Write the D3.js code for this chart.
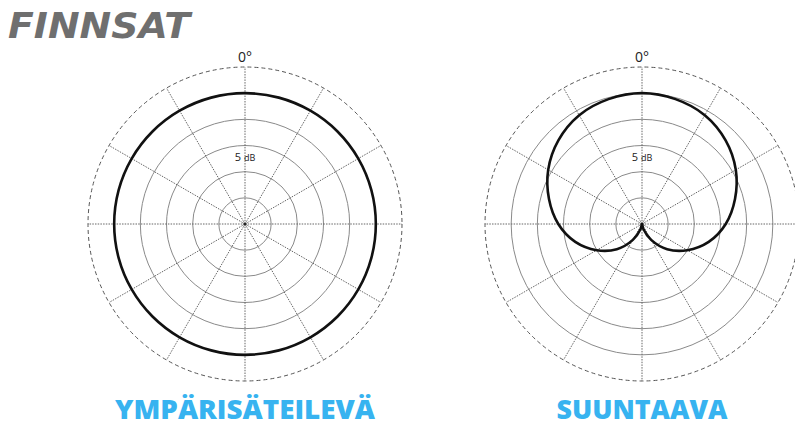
<!DOCTYPE html>
<html>
<head>
<meta charset="utf-8">
<script src="https://cdn.jsdelivr.net/npm/d3@7"></script>
<style>
  body { margin: 0; background: #fff; }
  svg { display: block; }
</style>
</head>
<body>
<div id="chart"></div>
<script>
// polar pickup patterns (dB), one value per 15 degrees
const angles = [0, 15, 30, 45, 60, 75, 90, 105, 120, 135, 150, 165, 180,
                195, 210, 225, 240, 255, 270, 285, 300, 315, 330, 345];
const omniDb = [0, 0, 0, 0, 0, 0, 0, 0, 0, 0, 0, 0, 0,
                0, 0, 0, 0, 0, 0, 0, 0, 0, 0, 0];
const cardioidDb = [0, -0.3, -1.0, -2.4, -4.3, -6.6, -9.0, -11.8, -15.0, -18.2, -21.5, -24.0, -25,
                    -24.0, -21.5, -18.2, -15.0, -11.8, -9.0, -6.6, -4.3, -2.4, -1.0, -0.3];
const ringDb = [-20, -15, -10, -5, 0];
const outerDb = 5;
const spokeAngles = [0, 30, 60, 90, 120, 150, 180, 210, 240, 270, 300, 330];
const titles = ["YMPÄRISÄTEILEVÄ", "SUUNTAAVA"];
const patterns = [omniDb, cardioidDb];

const width = 795, height = 427;
const centers = [{x: 245, y: 224}, {x: 642, y: 224}];
const titleWidths = [260, 171];

const svg = d3.select("#chart").append("svg")
    .attr("width", width)
    .attr("height", height);

// logo
svg.append("text")
    .attr("x", 8)
    .attr("y", 38)
    .attr("textLength", 182)
    .attr("lengthAdjust", "spacingAndGlyphs")
    .style("font-family", "'DejaVu Sans', sans-serif")
    .style("font-weight", "bold")
    .style("font-style", "italic")
    .style("font-size", "36px")
    .style("fill", "#6f6f6f")
    .text("FINNSAT");

const r = d3.scaleLinear().domain([-25, 5]).range([0, 157]);
const rad = d => d * Math.PI / 180;

centers.forEach((c, i) => {
    const g = svg.append("g")
        .attr("transform", `translate(${c.x},${c.y})`);

    // rings
    g.selectAll(".ring").data(ringDb).enter()
        .append("circle")
        .attr("class", "ring")
        .attr("r", d => r(d))
        .attr("fill", "none")
        .attr("stroke", "#8a8a8a")
        .attr("stroke-width", 1);

    // spokes
    g.selectAll(".spoke").data(spokeAngles).enter()
        .append("line")
        .attr("class", "spoke")
        .attr("x1", 0).attr("y1", 0)
        .attr("x2", d => r(outerDb) * Math.sin(rad(d)))
        .attr("y2", d => -r(outerDb) * Math.cos(rad(d)))
        .attr("stroke", "#666")
        .attr("stroke-width", 1)
        .attr("stroke-dasharray", "1.5,1.2");

    // outer dashed circle
    g.append("circle")
        .attr("r", r(outerDb))
        .attr("fill", "none")
        .attr("stroke", "#555")
        .attr("stroke-width", 1)
        .attr("stroke-dasharray", "4,3");

    g.append("circle")
        .attr("r", 1.6)
        .attr("fill", "#222");

    // labels
    g.append("text")
        .attr("x", 0)
        .attr("y", -r(outerDb) - 5)
        .attr("text-anchor", "middle")
        .style("font-family", "'Open Sans', sans-serif")
        .style("font-size", "14px")
        .style("fill", "#222")
        .text("0°");

    const lbl = g.append("text")
        .attr("x", 0)
        .attr("y", -r(-10) + 15)
        .attr("text-anchor", "middle")
        .style("font-family", "'Open Sans', sans-serif")
        .style("fill", "#222");
    lbl.append("tspan").style("font-size", "11px").text("5 ");
    lbl.append("tspan").style("font-size", "9px").text("dB");

    // pattern
    const line = d3.lineRadial()
        .angle((d, j) => rad(angles[j]))
        .radius(d => r(d))
        .curve(d3.curveCatmullRomClosed.alpha(0.5));

    g.append("path")
        .datum(patterns[i])
        .attr("d", line)
        .attr("fill", "none")
        .attr("stroke", "#111")
        .attr("stroke-width", 2.6);

    // title
    svg.append("text")
        .attr("x", c.x)
        .attr("y", 419)
        .attr("text-anchor", "middle")
        .attr("textLength", titleWidths[i])
        .attr("lengthAdjust", "spacingAndGlyphs")
        .style("font-family", "'Open Sans', sans-serif")
        .style("font-weight", 800)
        .style("font-size", "27px")
        .style("fill", "#37b3f0")
        .text(titles[i]);
});
</script>
</body>
</html>
